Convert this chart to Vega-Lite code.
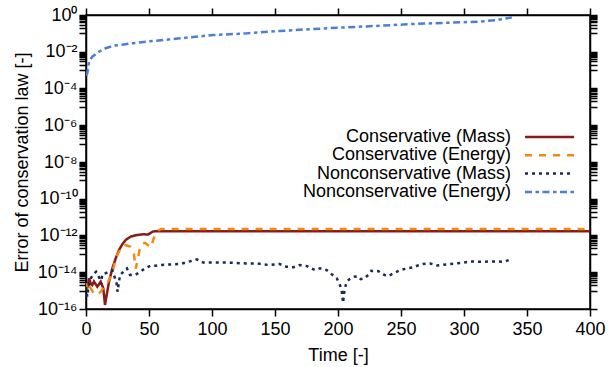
{
  "$schema": "https://vega.github.io/schema/vega-lite/v6.json",
  "width": 504,
  "height": 294,
  "autosize": {"type": "none"},
  "padding": {"left": 86, "top": 15, "right": 20, "bottom": 58},
  "background": "white",
  "config": {
    "view": {"stroke": "black", "strokeWidth": 1.5},
    "font": "Liberation Sans",
    "axis": {"grid": false, "domainColor": "black", "domainWidth": 1.5, "tickColor": "black", "tickWidth": 1.5, "labelColor": "black", "titleColor": "black", "labelFont": "Liberation Sans", "titleFont": "Liberation Sans", "labelFontSize": 18, "titleFontSize": 18, "titleFontWeight": 400, "labelOverlap": false, "labelFlush": false}
  },
  "data": {
    "values": [
      {"series": "Conservative (Mass)", "t": 0, "err": 2.51e-15},
      {"series": "Conservative (Mass)", "t": 1, "err": 1.32e-15},
      {"series": "Conservative (Mass)", "t": 2.4, "err": 4.68e-15},
      {"series": "Conservative (Mass)", "t": 3.7, "err": 2.51e-15},
      {"series": "Conservative (Mass)", "t": 5, "err": 2.0e-15},
      {"series": "Conservative (Mass)", "t": 6.3, "err": 3.16e-15},
      {"series": "Conservative (Mass)", "t": 9, "err": 1.62e-15},
      {"series": "Conservative (Mass)", "t": 11.7, "err": 3.09e-15},
      {"series": "Conservative (Mass)", "t": 13.7, "err": 1.35e-15},
      {"series": "Conservative (Mass)", "t": 15.1, "err": 1.66e-16},
      {"series": "Conservative (Mass)", "t": 16.4, "err": 5.75e-16},
      {"series": "Conservative (Mass)", "t": 18.3, "err": 3.09e-15},
      {"series": "Conservative (Mass)", "t": 20.9, "err": 1.62e-14},
      {"series": "Conservative (Mass)", "t": 23.6, "err": 5.75e-14},
      {"series": "Conservative (Mass)", "t": 26.2, "err": 1.62e-13},
      {"series": "Conservative (Mass)", "t": 28.8, "err": 3.31e-13},
      {"series": "Conservative (Mass)", "t": 31.5, "err": 5.75e-13},
      {"series": "Conservative (Mass)", "t": 35.5, "err": 8.71e-13},
      {"series": "Conservative (Mass)", "t": 40.7, "err": 1.07e-12},
      {"series": "Conservative (Mass)", "t": 46, "err": 1.17e-12},
      {"series": "Conservative (Mass)", "t": 49.2, "err": 1.12e-12},
      {"series": "Conservative (Mass)", "t": 53.2, "err": 1.66e-12},
      {"series": "Conservative (Mass)", "t": 56, "err": 1.7e-12},
      {"series": "Conservative (Mass)", "t": 400, "err": 1.7e-12},

      {"series": "Conservative (Energy)", "t": 0, "err": 2.51e-15},
      {"series": "Conservative (Energy)", "t": 1, "err": 8.71e-16},
      {"series": "Conservative (Energy)", "t": 3, "err": 1.62e-15},
      {"series": "Conservative (Energy)", "t": 6.3, "err": 7.08e-16},
      {"series": "Conservative (Energy)", "t": 9, "err": 5.75e-16},
      {"series": "Conservative (Energy)", "t": 11.7, "err": 8.71e-16},
      {"series": "Conservative (Energy)", "t": 14.3, "err": 1.62e-15},
      {"series": "Conservative (Energy)", "t": 17, "err": 2.51e-15},
      {"series": "Conservative (Energy)", "t": 21, "err": 1.0e-14},
      {"series": "Conservative (Energy)", "t": 23.6, "err": 5.75e-14},
      {"series": "Conservative (Energy)", "t": 27.5, "err": 2.0e-13},
      {"series": "Conservative (Energy)", "t": 30.4, "err": 3.16e-13},
      {"series": "Conservative (Energy)", "t": 35, "err": 2.51e-13},
      {"series": "Conservative (Energy)", "t": 38, "err": 1.0e-13},
      {"series": "Conservative (Energy)", "t": 39.5, "err": 1.58e-14},
      {"series": "Conservative (Energy)", "t": 41, "err": 5.0e-14},
      {"series": "Conservative (Energy)", "t": 42.5, "err": 1.58e-13},
      {"series": "Conservative (Energy)", "t": 44.5, "err": 3.55e-13},
      {"series": "Conservative (Energy)", "t": 47, "err": 3.98e-13},
      {"series": "Conservative (Energy)", "t": 49.5, "err": 2.82e-13},
      {"series": "Conservative (Energy)", "t": 51.5, "err": 2.24e-13},
      {"series": "Conservative (Energy)", "t": 54, "err": 7.94e-13},
      {"series": "Conservative (Energy)", "t": 57, "err": 1.91e-12},
      {"series": "Conservative (Energy)", "t": 60, "err": 2.24e-12},
      {"series": "Conservative (Energy)", "t": 400, "err": 2.24e-12},

      {"series": "Nonconservative (Mass)", "t": 0, "err": 1.58e-15},
      {"series": "Nonconservative (Mass)", "t": 1, "err": 4.68e-16},
      {"series": "Nonconservative (Mass)", "t": 2, "err": 1.58e-15},
      {"series": "Nonconservative (Mass)", "t": 4, "err": 5.01e-15},
      {"series": "Nonconservative (Mass)", "t": 6, "err": 7.94e-15},
      {"series": "Nonconservative (Mass)", "t": 8, "err": 1.07e-14},
      {"series": "Nonconservative (Mass)", "t": 10.5, "err": 5.01e-15},
      {"series": "Nonconservative (Mass)", "t": 11.8, "err": 2.24e-15},
      {"series": "Nonconservative (Mass)", "t": 13, "err": 7.94e-15},
      {"series": "Nonconservative (Mass)", "t": 15.3, "err": 8.71e-15},
      {"series": "Nonconservative (Mass)", "t": 18.5, "err": 1.07e-14},
      {"series": "Nonconservative (Mass)", "t": 21, "err": 1.26e-14},
      {"series": "Nonconservative (Mass)", "t": 24.3, "err": 2.51e-15},
      {"series": "Nonconservative (Mass)", "t": 25, "err": 8.71e-16},
      {"series": "Nonconservative (Mass)", "t": 27, "err": 7.08e-15},
      {"series": "Nonconservative (Mass)", "t": 31, "err": 1.32e-14},
      {"series": "Nonconservative (Mass)", "t": 32.5, "err": 1.62e-14},
      {"series": "Nonconservative (Mass)", "t": 35, "err": 7.08e-15},
      {"series": "Nonconservative (Mass)", "t": 39, "err": 7.08e-15},
      {"series": "Nonconservative (Mass)", "t": 43, "err": 1.07e-14},
      {"series": "Nonconservative (Mass)", "t": 47, "err": 1.62e-14},
      {"series": "Nonconservative (Mass)", "t": 51, "err": 2.24e-14},
      {"series": "Nonconservative (Mass)", "t": 55, "err": 2.24e-14},
      {"series": "Nonconservative (Mass)", "t": 60, "err": 2.51e-14},
      {"series": "Nonconservative (Mass)", "t": 75, "err": 2.82e-14},
      {"series": "Nonconservative (Mass)", "t": 88, "err": 5.01e-14},
      {"series": "Nonconservative (Mass)", "t": 93, "err": 3.39e-14},
      {"series": "Nonconservative (Mass)", "t": 110, "err": 3.39e-14},
      {"series": "Nonconservative (Mass)", "t": 127, "err": 3.02e-14},
      {"series": "Nonconservative (Mass)", "t": 135.5, "err": 3.02e-14},
      {"series": "Nonconservative (Mass)", "t": 145.5, "err": 2.45e-14},
      {"series": "Nonconservative (Mass)", "t": 153.6, "err": 2.82e-14},
      {"series": "Nonconservative (Mass)", "t": 159, "err": 2.0e-14},
      {"series": "Nonconservative (Mass)", "t": 164.4, "err": 1.86e-14},
      {"series": "Nonconservative (Mass)", "t": 169.6, "err": 2.45e-14},
      {"series": "Nonconservative (Mass)", "t": 175, "err": 2.19e-14},
      {"series": "Nonconservative (Mass)", "t": 181.6, "err": 1.32e-14},
      {"series": "Nonconservative (Mass)", "t": 185.7, "err": 1.62e-14},
      {"series": "Nonconservative (Mass)", "t": 191, "err": 1.32e-14},
      {"series": "Nonconservative (Mass)", "t": 195, "err": 7.76e-15},
      {"series": "Nonconservative (Mass)", "t": 199, "err": 4.68e-15},
      {"series": "Nonconservative (Mass)", "t": 201.6, "err": 2.0e-15},
      {"series": "Nonconservative (Mass)", "t": 203, "err": 8.71e-16},
      {"series": "Nonconservative (Mass)", "t": 204, "err": 2.19e-16},
      {"series": "Nonconservative (Mass)", "t": 205.3, "err": 1.26e-15},
      {"series": "Nonconservative (Mass)", "t": 207, "err": 3.09e-15},
      {"series": "Nonconservative (Mass)", "t": 209, "err": 4.17e-15},
      {"series": "Nonconservative (Mass)", "t": 213, "err": 5.75e-15},
      {"series": "Nonconservative (Mass)", "t": 215.6, "err": 6.03e-15},
      {"series": "Nonconservative (Mass)", "t": 218, "err": 4.17e-15},
      {"series": "Nonconservative (Mass)", "t": 221, "err": 4.68e-15},
      {"series": "Nonconservative (Mass)", "t": 224, "err": 7.08e-15},
      {"series": "Nonconservative (Mass)", "t": 226.5, "err": 1.2e-14},
      {"series": "Nonconservative (Mass)", "t": 232, "err": 1.15e-14},
      {"series": "Nonconservative (Mass)", "t": 237, "err": 7.08e-15},
      {"series": "Nonconservative (Mass)", "t": 240, "err": 6.31e-15},
      {"series": "Nonconservative (Mass)", "t": 244, "err": 8.71e-15},
      {"series": "Nonconservative (Mass)", "t": 249.5, "err": 1.32e-14},
      {"series": "Nonconservative (Mass)", "t": 255, "err": 1.62e-14},
      {"series": "Nonconservative (Mass)", "t": 260, "err": 1.86e-14},
      {"series": "Nonconservative (Mass)", "t": 264, "err": 2.45e-14},
      {"series": "Nonconservative (Mass)", "t": 267.6, "err": 2.82e-14},
      {"series": "Nonconservative (Mass)", "t": 273, "err": 3.02e-14},
      {"series": "Nonconservative (Mass)", "t": 278.4, "err": 2.34e-14},
      {"series": "Nonconservative (Mass)", "t": 283.6, "err": 2.57e-14},
      {"series": "Nonconservative (Mass)", "t": 289, "err": 2.82e-14},
      {"series": "Nonconservative (Mass)", "t": 294, "err": 3.02e-14},
      {"series": "Nonconservative (Mass)", "t": 299.5, "err": 3.31e-14},
      {"series": "Nonconservative (Mass)", "t": 305, "err": 3.89e-14},
      {"series": "Nonconservative (Mass)", "t": 310, "err": 3.72e-14},
      {"series": "Nonconservative (Mass)", "t": 315.5, "err": 3.72e-14},
      {"series": "Nonconservative (Mass)", "t": 321, "err": 3.89e-14},
      {"series": "Nonconservative (Mass)", "t": 326, "err": 3.89e-14},
      {"series": "Nonconservative (Mass)", "t": 331.7, "err": 3.72e-14},
      {"series": "Nonconservative (Mass)", "t": 337, "err": 5.01e-14},

      {"series": "Nonconservative (Energy)", "t": 0, "err": 5.0e-4},
      {"series": "Nonconservative (Energy)", "t": 1, "err": 6.76e-4},
      {"series": "Nonconservative (Energy)", "t": 2.4, "err": 2.88e-3},
      {"series": "Nonconservative (Energy)", "t": 5, "err": 5.37e-3},
      {"series": "Nonconservative (Energy)", "t": 10.3, "err": 1.0e-2},
      {"series": "Nonconservative (Energy)", "t": 15.6, "err": 1.55e-2},
      {"series": "Nonconservative (Energy)", "t": 22.2, "err": 2.14e-2},
      {"series": "Nonconservative (Energy)", "t": 30, "err": 2.51e-2},
      {"series": "Nonconservative (Energy)", "t": 37, "err": 2.88e-2},
      {"series": "Nonconservative (Energy)", "t": 48, "err": 3.55e-2},
      {"series": "Nonconservative (Energy)", "t": 74.6, "err": 5.37e-2},
      {"series": "Nonconservative (Energy)", "t": 101, "err": 8.13e-2},
      {"series": "Nonconservative (Energy)", "t": 127.6, "err": 0.1},
      {"series": "Nonconservative (Energy)", "t": 154, "err": 0.135},
      {"series": "Nonconservative (Energy)", "t": 180.6, "err": 0.174},
      {"series": "Nonconservative (Energy)", "t": 207.6, "err": 0.214},
      {"series": "Nonconservative (Energy)", "t": 233.8, "err": 0.263},
      {"series": "Nonconservative (Energy)", "t": 260, "err": 0.324},
      {"series": "Nonconservative (Energy)", "t": 287, "err": 0.38},
      {"series": "Nonconservative (Energy)", "t": 313, "err": 0.437},
      {"series": "Nonconservative (Energy)", "t": 326, "err": 0.537},
      {"series": "Nonconservative (Energy)", "t": 338, "err": 0.741}
    ]
  },
  "layer": [
    {
      "mark": {"type": "line", "strokeWidth": 2.5, "clip": true},
      "encoding": {
        "x": {
          "field": "t", "type": "quantitative",
          "scale": {"domain": [0, 400], "nice": false},
          "axis": {
            "orient": "bottom",
            "values": [0, 50, 100, 150, 200, 250, 300, 350, 400],
            "title": "Time [-]",
            "titleFontWeight": 400,
            "tickSize": 7,
            "labelPadding": 18.5,
            "labelBaseline": "alphabetic",
            "titleX": 252, "titleY": 51.7,
            "titleBaseline": "alphabetic",
            "titleAlign": "center",
            "encode": {"ticks": {"update": {"y2": {"value": -7}}}}
          }
        },
        "y": {
          "field": "err", "type": "quantitative",
          "scale": {"type": "log", "domain": [1e-16, 1], "nice": false},
          "axis": {
            "orient": "left",
            "values": [1e-16, 1e-14, 1e-12, 1e-10, 1e-8, 1e-6, 1e-4, 1e-2, 1,
              1e-1, 2e-1, 3e-1, 4e-1, 5e-1, 6e-1, 7e-1, 8e-1, 9e-1,
              1e-3, 2e-3, 3e-3, 4e-3, 5e-3, 6e-3, 7e-3, 8e-3, 9e-3,
              1e-5, 2e-5, 3e-5, 4e-5, 5e-5, 6e-5, 7e-5, 8e-5, 9e-5,
              1e-7, 2e-7, 3e-7, 4e-7, 5e-7, 6e-7, 7e-7, 8e-7, 9e-7,
              1e-9, 2e-9, 3e-9, 4e-9, 5e-9, 6e-9, 7e-9, 8e-9, 9e-9,
              1e-11, 2e-11, 3e-11, 4e-11, 5e-11, 6e-11, 7e-11, 8e-11, 9e-11,
              1e-13, 2e-13, 3e-13, 4e-13, 5e-13, 6e-13, 7e-13, 8e-13, 9e-13,
              1e-15, 2e-15, 3e-15, 4e-15, 5e-15, 6e-15, 7e-15, 8e-15, 9e-15],
            "labelExpr": "(abs(log(datum.value)/LN10 - round(log(datum.value)/LN10)) < 0.01 && round(log(datum.value)/LN10) % 2 == 0) ? ['10⁻¹⁶','10⁻¹⁴','10⁻¹²','10⁻¹⁰','10⁻⁸','10⁻⁶','10⁻⁴','10⁻²','10⁰'][(round(log(datum.value)/LN10)+16)/2] : ''",
            "tickSize": 7,
            "labelPadding": 2,
            "labelBaseline": "middle",
            "title": "Error of conservation law [-]",
            "titleFontWeight": 400,
            "titleX": -59, "titleY": 147,
            "titleAngle": -90,
            "titleBaseline": "alphabetic",
            "titleAlign": "center",
            "encode": {"ticks": {"update": {"x2": [{"test": "abs(log(datum.value)/LN10 - round(log(datum.value)/LN10)) < 0.01 && round(log(datum.value)/LN10) % 2 == 0", "value": 7}, {"value": 4}]}}}
          }
        },
        "color": {
          "field": "series", "type": "nominal",
          "scale": {
            "domain": ["Conservative (Mass)", "Conservative (Energy)", "Nonconservative (Mass)", "Nonconservative (Energy)"],
            "range": ["#8b1a1a", "#f08a10", "#1b2b55", "#4a7fd9"]
          },
          "legend": {
            "title": null, "orient": "none", "legendX": 430, "legendY": 113,
            "symbolType": "M 0 0 H 9.8", "symbolSize": 100, "symbolStrokeWidth": 2.5,
            "labelAlign": "right", "labelOffset": -23, "labelFontSize": 18,
            "labelFont": "Liberation Sans", "labelColor": "black", "labelLimit": 400,
            "rowPadding": 0.3, "padding": 0
          }
        },
        "strokeDash": {
          "field": "series", "type": "nominal",
          "scale": {
            "domain": ["Conservative (Mass)", "Conservative (Energy)", "Nonconservative (Mass)", "Nonconservative (Energy)"],
            "range": [[1, 0], [7, 7], [3, 4], [7, 3.5, 3.5, 3.5]]
          },
          "legend": {
            "title": null, "orient": "none", "legendX": 430, "legendY": 113,
            "symbolType": "M 0 0 H 9.8", "symbolSize": 100, "symbolStrokeWidth": 2.5,
            "labelAlign": "right", "labelOffset": -23, "labelFontSize": 18,
            "labelFont": "Liberation Sans", "labelColor": "black", "labelLimit": 400,
            "rowPadding": 0.3, "padding": 0
          }
        }
      }
    },
    {
      "mark": {"type": "line", "opacity": 0},
      "encoding": {
        "x": {
          "field": "t", "type": "quantitative",
          "scale": {"domain": [0, 400], "nice": false},
          "axis": {
            "orient": "top", "values": [0, 50, 100, 150, 200, 250, 300, 350, 400],
            "labels": false, "title": null, "tickSize": 7,
            "encode": {"ticks": {"update": {"y2": {"value": 7}}}}
          }
        },
        "y": {
          "field": "err", "type": "quantitative",
          "scale": {"type": "log", "domain": [1e-16, 1], "nice": false},
          "axis": {
            "orient": "right",
            "values": [1e-16, 1e-14, 1e-12, 1e-10, 1e-8, 1e-6, 1e-4, 1e-2, 1,
              1e-1, 2e-1, 3e-1, 4e-1, 5e-1, 6e-1, 7e-1, 8e-1, 9e-1,
              1e-3, 2e-3, 3e-3, 4e-3, 5e-3, 6e-3, 7e-3, 8e-3, 9e-3,
              1e-5, 2e-5, 3e-5, 4e-5, 5e-5, 6e-5, 7e-5, 8e-5, 9e-5,
              1e-7, 2e-7, 3e-7, 4e-7, 5e-7, 6e-7, 7e-7, 8e-7, 9e-7,
              1e-9, 2e-9, 3e-9, 4e-9, 5e-9, 6e-9, 7e-9, 8e-9, 9e-9,
              1e-11, 2e-11, 3e-11, 4e-11, 5e-11, 6e-11, 7e-11, 8e-11, 9e-11,
              1e-13, 2e-13, 3e-13, 4e-13, 5e-13, 6e-13, 7e-13, 8e-13, 9e-13,
              1e-15, 2e-15, 3e-15, 4e-15, 5e-15, 6e-15, 7e-15, 8e-15, 9e-15],
            "labels": false, "title": null, "tickSize": 7,
            "encode": {"ticks": {"update": {"x2": [{"test": "abs(log(datum.value)/LN10 - round(log(datum.value)/LN10)) < 0.01 && round(log(datum.value)/LN10) % 2 == 0", "value": -7}, {"value": -4}]}}}
          }
        },
        "detail": {"field": "series", "type": "nominal"}
      }
    }
  ],
  "resolve": {
    "scale": {"x": "independent", "y": "independent"},
    "axis": {"x": "independent", "y": "independent"}
  }
}
